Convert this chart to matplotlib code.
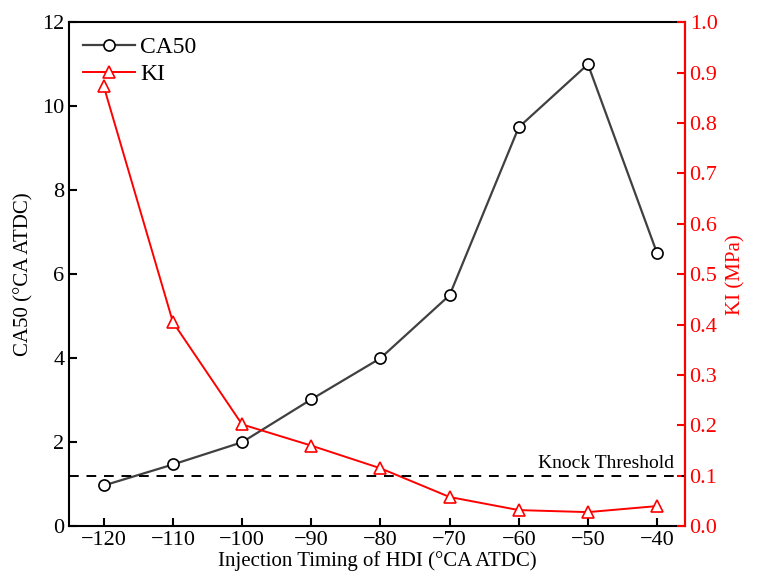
import numpy as np
import matplotlib.pyplot as plt

plt.rcParams['font.family'] = ['Liberation Serif', 'DejaVu Serif']
plt.rcParams['xtick.direction'] = 'in'
plt.rcParams['ytick.direction'] = 'in'

timing = [-120, -110, -100, -90, -80, -70, -60, -50, -40]
ca50 = [0.97, 1.47, 2.0, 3.02, 4.0, 5.5, 9.5, 11.0, 6.5]
ki = [0.873, 0.405, 0.202, 0.16, 0.115, 0.058, 0.032, 0.028, 0.04]
threshold = 0.1

fig = plt.figure(figsize=(7.6, 5.86), dpi=100)
ax = fig.add_axes([0.091, 0.102, 0.81, 0.86])
ax2 = ax.twinx()

l1, = ax.plot(timing, ca50, '-o', color='#404040', lw=1.6, ms=8,
              mfc='white', mec='black', mew=1.2, label='CA50')
l2, = ax2.plot(timing, ki, '-^', color='red', lw=1.4, ms=9,
               mfc='white', mec='red', mew=1.2, label='KI')
ax2.axhline(threshold, color='black', ls=(0, (5, 4)), lw=1.4)
ax2.text(-37.5, threshold + 0.008, 'Knock Threshold', ha='right', va='bottom', fontsize=14)

ax.set_xlim(-125, -36)
ax.set_ylim(0, 12)
ax2.set_ylim(0, 1.0)
ax.set_xticks(timing)
ax.set_yticks(np.arange(0, 13, 2))
ax2.set_yticks(np.arange(0, 1.01, 0.1))
ax2.set_yticklabels(['%.1f' % v for v in np.arange(0, 1.01, 0.1)])

ax.set_xlabel('Injection Timing of HDI (°CA ATDC)', fontsize=15, labelpad=1)
ax.set_ylabel('CA50 (°CA ATDC)', fontsize=15, labelpad=6)
ax2.set_ylabel('KI (MPa)', fontsize=15, color='red', labelpad=6)

ax.tick_params(labelsize=16, width=1.5, length=6)
ax2.tick_params(labelsize=16, width=1.5, length=6, colors='red')
for s in ax.spines.values():
    s.set_linewidth(1.5)
ax2.spines['right'].set_color('red')
ax2.spines['right'].set_linewidth(1.5)
for s in ['left', 'top', 'bottom']:
    ax2.spines[s].set_visible(False)

ax.legend(handles=[l1, l2], loc='upper left', frameon=False, fontsize=17,
          handlelength=2.2, handletextpad=0.2, borderaxespad=0.3,
          borderpad=0.3, labelspacing=0.25)

fig.savefig('out.png', dpi=100)
